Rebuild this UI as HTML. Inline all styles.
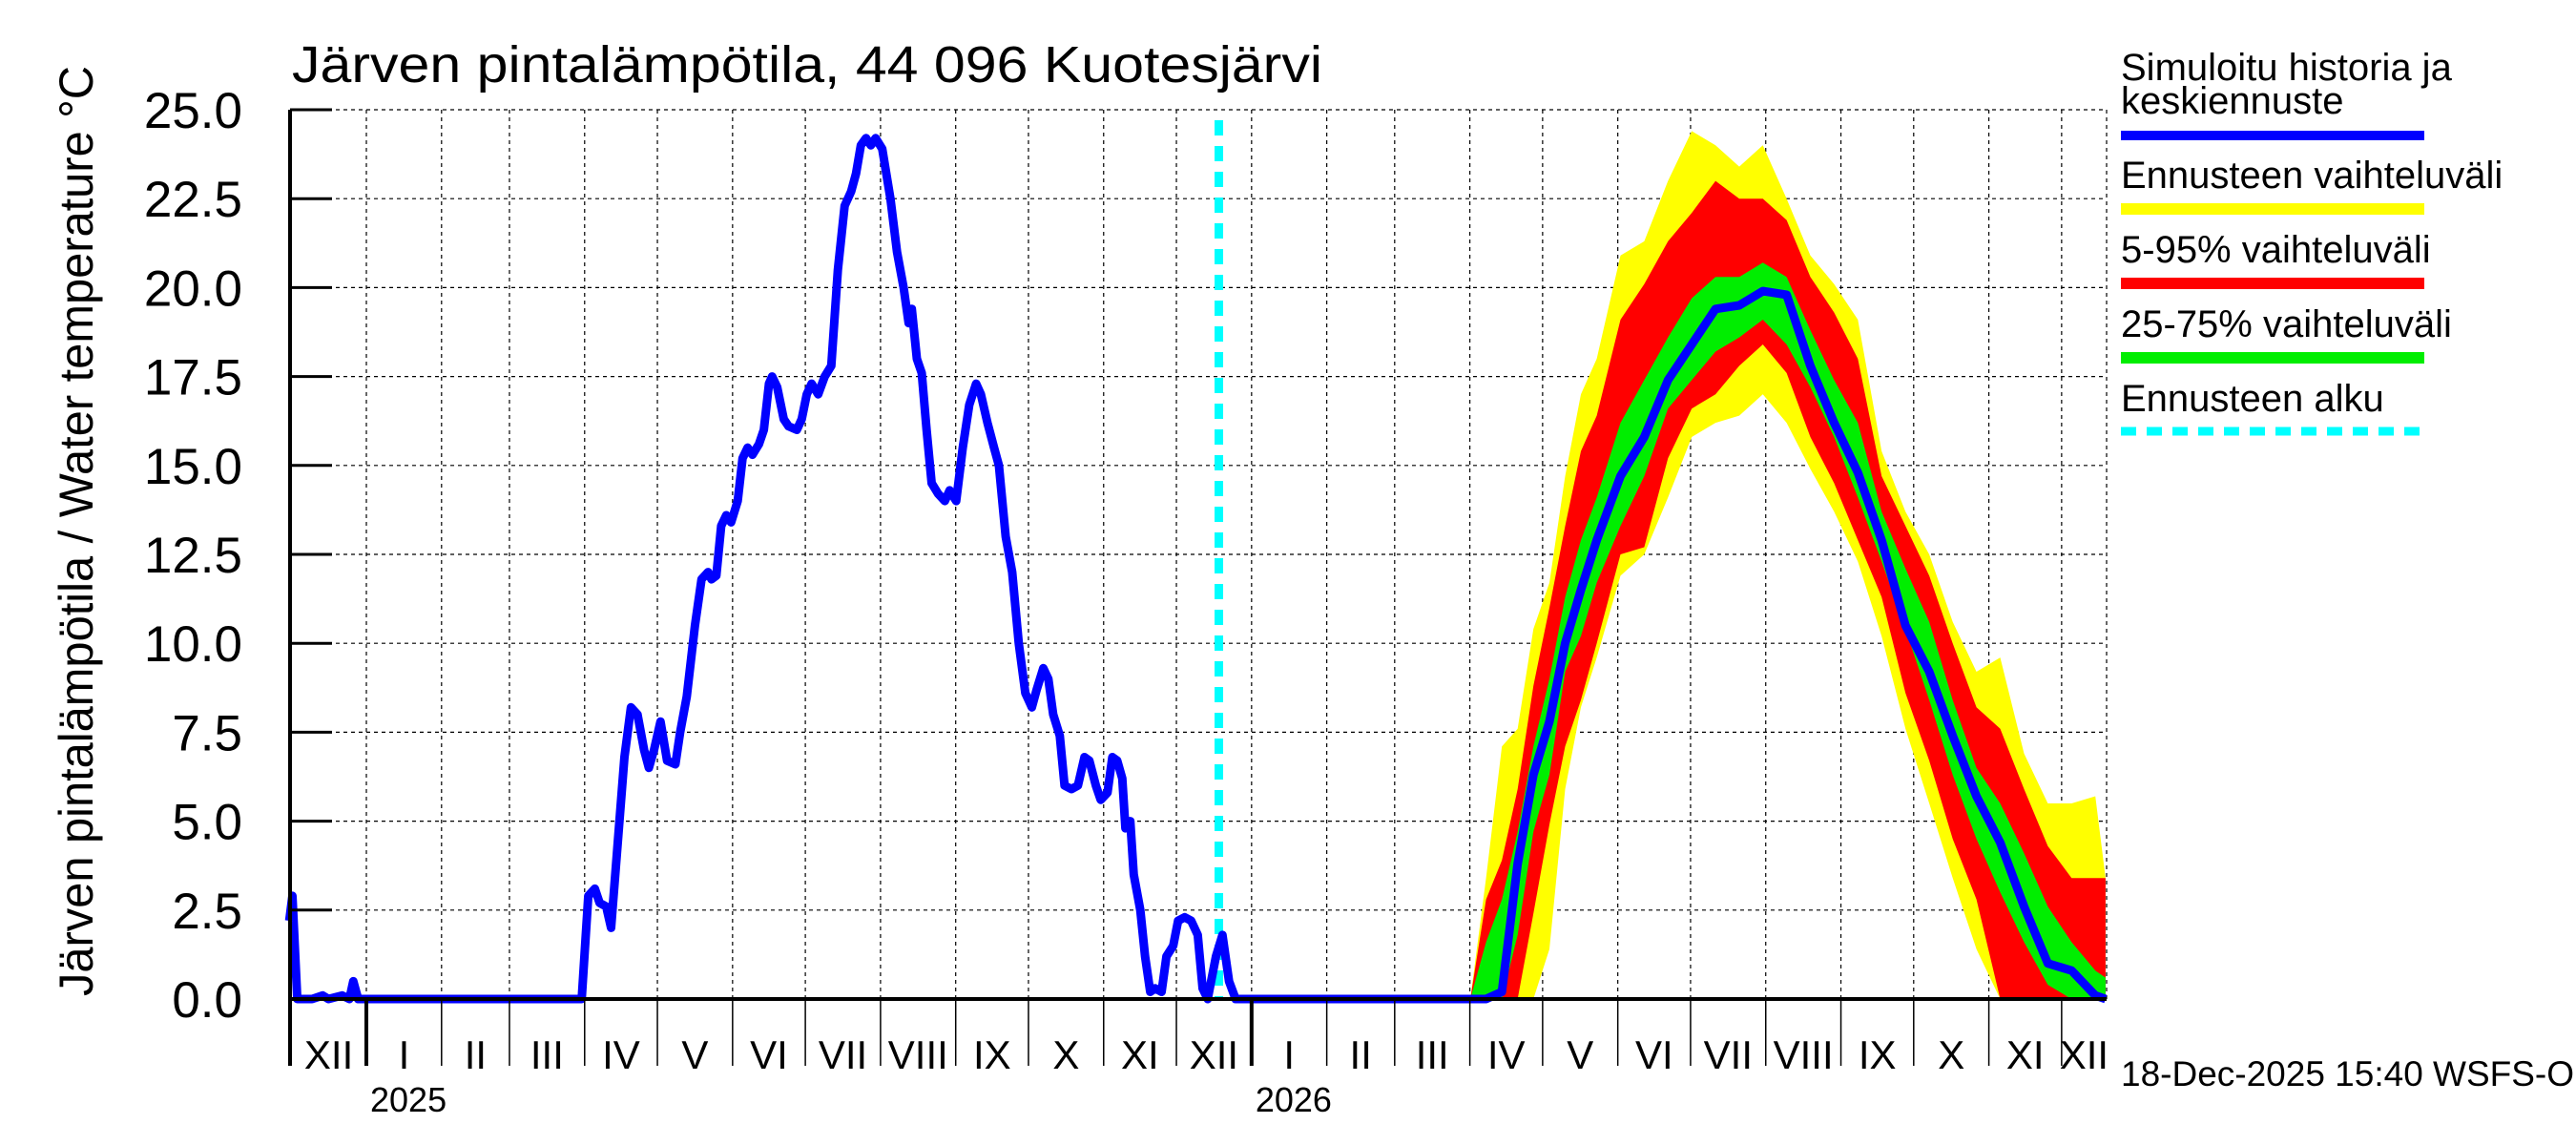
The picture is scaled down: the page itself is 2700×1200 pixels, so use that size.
<!DOCTYPE html>
<html><head><meta charset="utf-8"><style>
html,body{margin:0;padding:0;background:#fff;}
svg{display:block;font-family:"Liberation Sans",sans-serif;}
</style></head><body>
<svg id="chart" width="2700" height="1200" viewBox="0 0 2700 1200" xmlns="http://www.w3.org/2000/svg">
<rect x="0" y="0" width="2700" height="1200" fill="#fff"/>
<g id="grid"></g>
<g id="bands"></g>
<g id="lines"></g>
<g id="axes"></g>
<text x="306" y="86" font-size="54" textLength="1080" lengthAdjust="spacingAndGlyphs">Järven pintalämpötila, 44 096 Kuotesjärvi</text>
<text transform="translate(97,1044) rotate(-90)" font-size="50" textLength="975" lengthAdjust="spacingAndGlyphs">Järven pintalämpötila / Water temperature °C</text>
<g font-size="40">
<text x="2223" y="84">Simuloitu historia ja</text>
<text x="2223" y="119">keskiennuste</text>
<rect x="2223" y="137" width="318" height="10" fill="#0000ff"/>
<text x="2223" y="197">Ennusteen vaihteluväli</text>
<rect x="2223" y="213" width="318" height="12" fill="#ffff00"/>
<text x="2223" y="275">5-95% vaihteluväli</text>
<rect x="2223" y="291" width="318" height="12" fill="#ff0000"/>
<text x="2223" y="353">25-75% vaihteluväli</text>
<rect x="2223" y="369" width="318" height="12" fill="#00ee00"/>
<text x="2223" y="431">Ennusteen alku</text>
<line x1="2223" y1="452" x2="2541" y2="452" stroke="#00ffff" stroke-width="9" stroke-dasharray="16,11"/>
</g>
<text x="2223" y="1138" font-size="37">18-Dec-2025 15:40 WSFS-O</text>
</svg>
<script>
// days measured from 1 Jan 2025
const histDays = [-31.8,-30.5,-28.5,-22.4,-18,-15.6,-10,-7,-5.4,-3.4,88.8,91.5,94.2,96.2,98.9,100.9,106.4,109.1,111.8,114.5,116.5,118.6,121.3,124.0,127.4,129.4,132.1,135.5,138.2,140.9,142.3,144.3,146.3,148.4,150.4,153.1,155.1,157.2,159.2,161.9,163.9,166.0,167.3,169.4,172.1,174.1,177.5,179.5,181.6,183.6,186.3,189.0,191.7,194.4,197.2,199.9,201.9,203.9,206.0,208.0,210.0,212.7,216.1,218.8,221.5,223.6,224.9,227.0,229.0,231.0,233.1,235.8,238.5,240.5,243.2,245.9,248.6,251.4,253.4,256.1,258.8,260.8,263.6,266.3,269.0,271.7,274.4,276.4,279.1,281.2,283.2,285.9,287.9,290.7,293.4,296.1,298.1,300.8,302.8,305.6,307.6,309.6,311.7,313.0,315.0,316.4,319.1,321.1,323.2,325.2,327.9,329.9,332.7,334.7,337.4,340.1,342.8,344.8,346.9,350.3,353.0,355.7,358.4];
const histVals = [2.2,2.9,0,0,0.1,0,0.1,0,0.5,0,0,2.9,3.1,2.7,2.6,2.0,6.8,8.2,8.0,7.0,6.5,7.0,7.8,6.7,6.6,7.5,8.5,10.5,11.8,12.0,11.8,11.9,13.3,13.6,13.4,14.0,15.2,15.5,15.3,15.6,16.0,17.3,17.5,17.2,16.3,16.1,16.0,16.3,17.0,17.3,17.0,17.5,17.8,20.5,22.3,22.7,23.2,24.0,24.2,24.0,24.2,23.9,22.5,21.0,20.0,19.0,19.4,18.0,17.6,16.0,14.5,14.2,14.0,14.3,14.0,15.5,16.7,17.3,17.0,16.2,15.5,15.0,13.0,12.0,10.0,8.6,8.2,8.7,9.3,9.0,8.0,7.4,6.0,5.9,6.0,6.8,6.7,6.0,5.6,5.8,6.8,6.7,6.2,4.8,5.0,3.5,2.5,1.2,0.2,0.3,0.2,1.2,1.5,2.2,2.3,2.2,1.8,0.3,0.0,1.2,1.8,0.5,0.0];
const fcDays = [358.4,455.2,461.7,468.2,474.7,481.2,487.8,494.3,500.8,507.3,517.1,526.9,536.7,546.5,556.3,566.1,575.8,585.6,595.4,605.2,615.0,624.8,634.6,644.4,654.1,663.9,673.7,683.5,693.3,703.1,712.9,717.1];
const fcMedian = [0,0,0,0.2,3.8,6.3,7.8,10.0,11.5,12.9,14.7,15.8,17.4,18.4,19.4,19.5,19.9,19.8,17.8,16.2,14.8,12.9,10.5,9.2,7.4,5.7,4.4,2.6,1.0,0.8,0.1,0];
const rangeHi = [0,0,3.4,7.1,7.6,10.4,11.7,14.7,17.0,18.0,20.9,21.3,23.0,24.4,24.0,23.4,24.0,22.5,20.9,20.1,19.1,15.4,13.7,12.5,10.6,9.2,9.6,6.9,5.5,5.5,5.7,3.4];
const rangeLo = [0,0,0,0,0,0,1.4,5.9,8.2,9.6,11.9,12.5,14.1,15.8,16.2,16.4,17.0,16.2,14.9,13.7,12.3,10.2,7.6,5.5,3.4,1.4,0,0,0,0,0,0];
const p95 = [0,0,2.8,3.9,5.9,8.8,11.0,13.3,15.4,16.4,19.1,20.1,21.3,22.1,23.0,22.5,22.5,21.9,20.3,19.3,18.0,14.7,13.3,11.9,10.0,8.2,7.6,5.9,4.3,3.4,3.4,3.4];
const p5 = [0,0,0,0,0,2.4,4.9,7.1,8.4,10.0,12.5,12.7,15.2,16.6,17.0,17.8,18.4,17.6,15.8,14.5,12.9,11.3,8.6,6.7,4.5,2.8,0,0,0,0,0,0];
const p75 = [0,0,1.6,2.8,4.7,7.1,9.0,11.3,12.9,14.1,16.2,17.4,18.6,19.7,20.3,20.3,20.7,20.3,18.8,17.4,16.2,13.7,12.1,10.6,8.4,6.5,5.5,4.1,2.6,1.6,0.8,0.6];
const p25 = [0,0,0,0,1.8,4.7,6.3,9.2,10.2,11.7,13.3,14.7,16.6,17.4,18.2,18.6,19.1,18.4,17.2,15.8,14.1,12.3,10.4,8.4,6.3,4.5,3.0,1.6,0.4,0,0,0];
const yTicks = [0,2.5,5,7.5,10,12.5,15,17.5,20,22.5,25];
const yTickLabels = ["0.0","2.5","5.0","7.5","10.0","12.5","15.0","17.5","20.0","22.5","25.0"];
const monthLabels = ["I","II","III","IV","V","VI","VII","VIII","IX","X","XI","XII"];
const forecastStartDay = 351.5;

const NS = "http://www.w3.org/2000/svg";
const X0=304, X1=2208, Y0=115, Y1=1047, JAN=384, PXD=2.542;
const dayStart=(X0-JAN)/PXD, dayEnd=(X1-JAN)/PXD;
function xs(d){return JAN + d*PXD;}
function ys(v){return Y1 - (v/25)*(Y1-Y0);}
function mk(tag, attrs, parent){const e=document.createElementNS(NS,tag);for(const k in attrs)e.setAttribute(k,attrs[k]);parent.appendChild(e);return e;}
const grid=document.getElementById('grid'), bands=document.getElementById('bands'), lines=document.getElementById('lines'), axes=document.getElementById('axes');

yTicks.forEach((t,i)=>{
  if(i>0){const g=mk('line',{x1:X0,x2:X1,y1:ys(t),y2:ys(t),stroke:'#000','stroke-width':1.2,'stroke-dasharray':'4,4'},grid);
  
  }
  const tk=mk('line',{x1:X0,x2:X0+44,y1:ys(t),y2:ys(t),stroke:'#000','stroke-width':3},axes);
  
  
  const lb=mk('text',{x:254,y:ys(t)+19,'font-size':53,'text-anchor':'end'},axes);
  lb.textContent=yTickLabels[i];
  
  
});
const base=Date.UTC(2025,0,1);
for(let k=-1;k<24;k++){
  const y=2025+Math.floor(k/12), m=((k%12)+12)%12;
  const d0=(Date.UTC(y,m,1)-base)/864e5, d1=(Date.UTC(y,m+1,1)-base)/864e5;
  const isYear=(m===0);
  if(d0>dayStart && d0<dayEnd){
    const gl=mk('line',{x1:xs(d0),x2:xs(d0),y1:Y0,y2:Y1,stroke:'#000','stroke-width':1.2,'stroke-dasharray':'4,4'},grid);
    
    
    const tl=mk('line',{x1:xs(d0),x2:xs(d0),y1:Y1,y2:1117,stroke:'#000','stroke-width':isYear?4:1.5},axes);
    
    
    if(isYear){const yl=mk('text',{x:xs(d0)+4,y:1165,'font-size':36},axes);
      yl.textContent=String(y);
      
      }
  }
  const a=Math.max(d0,dayStart), b=Math.min(d1,dayEnd);
  if(b-a>8){const ml=mk('text',{x:(xs(a)+xs(b))/2,y:1120,'font-size':42,'text-anchor':'middle'},axes);
    ml.textContent=monthLabels[m];
    
    }
}
mk('line',{x1:X1,x2:X1,y1:Y0,y2:Y1,stroke:'#000','stroke-width':1.2,'stroke-dasharray':'4,4'},grid);
function band(hi,lo,color,name){
  let p='M'+fcDays.map((d,i)=>xs(d).toFixed(1)+','+ys(hi[i]).toFixed(1)).join('L');
  for(let i=fcDays.length-1;i>=0;i--)p+='L'+xs(fcDays[i]).toFixed(1)+','+ys(lo[i]).toFixed(1);
  const e=mk('path',{d:p+'Z',fill:color},bands);
  
  
}
band(rangeHi,rangeLo,'#ffff00','band-full-range');
band(p95,p5,'#ff0000','band-5-95');
band(p75,p25,'#00ee00','band-25-75');
const fs=mk('line',{x1:xs(forecastStartDay),x2:xs(forecastStartDay),y1:126,y2:Y1,stroke:'#00ffff','stroke-width':9,'stroke-dasharray':'16,11'},lines);


const allD=histDays.concat(fcDays.slice(1)), allV=histVals.concat(fcMedian.slice(1));
const bl=mk('polyline',{points:allD.map((d,i)=>xs(d).toFixed(1)+','+ys(allV[i]).toFixed(1)).join(' '),fill:'none',stroke:'#0000ff','stroke-width':9,'stroke-linejoin':'round'},lines);


const ax1=mk('line',{x1:X0,x2:X0,y1:Y0,y2:1117,stroke:'#000','stroke-width':4},axes);


const ax2=mk('line',{x1:X0,x2:X1,y1:Y1,y2:Y1,stroke:'#000','stroke-width':4},axes);


</script>
</body></html>
